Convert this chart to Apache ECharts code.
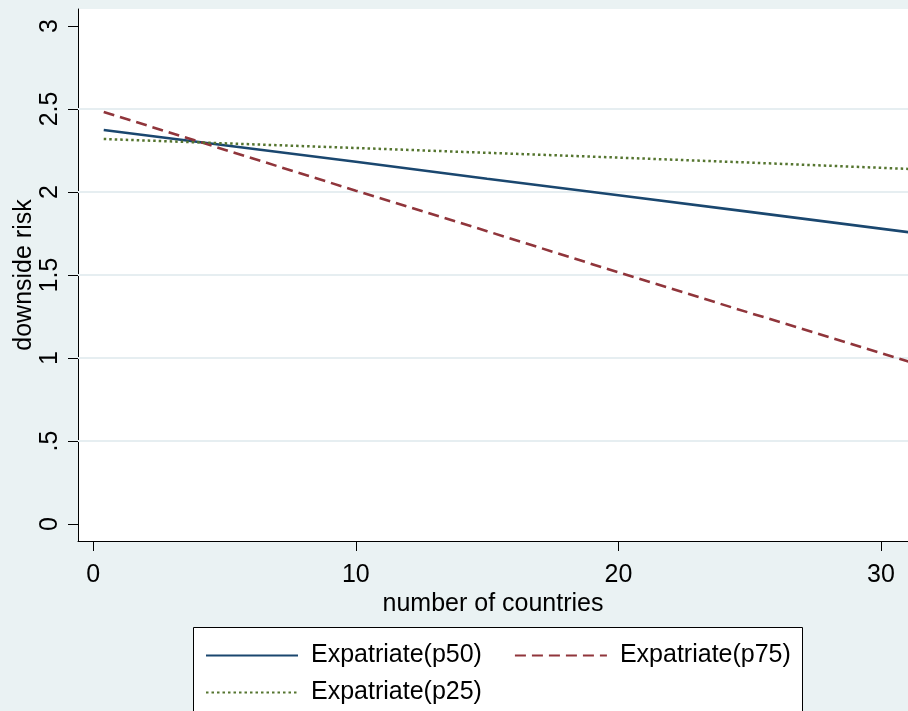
<!DOCTYPE html>
<html><head><meta charset="utf-8">
<script src="https://cdn.jsdelivr.net/npm/echarts@6/dist/echarts.min.js"></script>
<style>html,body{margin:0;padding:0;background:#eaf2f3}#c{width:908px;height:711px}</style>
</head><body><div id="c"></div>
<script>
const countries = [0.4, 5, 10, 15, 20, 25, 31.2];
const p50 = [2.373, 2.281, 2.182, 2.080, 1.980, 1.880, 1.755];
const p75 = [2.482, 2.255, 2.008, 1.764, 1.516, 1.272, 0.972];
const p25 = [2.319, 2.293, 2.265, 2.236, 2.207, 2.177, 2.138];
const xTicks = [0, 10, 20, 30];
const yTicks = [0, 0.5, 1, 1.5, 2, 2.5, 3];
const yTickLabels = ['0', '.5', '1', '1.5', '2', '2.5', '3'];
const yGrid = [0.5, 1, 1.5, 2, 2.5];
const names = ['Expatriate(p50)', 'Expatriate(p75)', 'Expatriate(p25)'];

const FONT = '"Liberation Sans", Arial, sans-serif';
const FS = 25;
const chart = echarts.init(document.getElementById('c'), null, {renderer: 'canvas'});
const zip = ys => countries.map((x, i) => [x, ys[i]]);
const legendBase = {
  itemWidth: 92, itemHeight: 14, itemGap: 32,
  textStyle: {fontFamily: FONT, fontSize: FS, color: '#000', padding: [0, 0, 0, 8]},
  itemStyle: {opacity: 0, borderWidth: 0},
  selectedMode: false, padding: 0
};
chart.setOption({
  backgroundColor: '#eaf2f3',
  animation: false,
  grid: {left: 78, top: 9, right: 0, bottom: 170, show: true, backgroundColor: '#ffffff', borderWidth: 0,
    containLabel: false, outerBoundsMode: 'none'},
  xAxis: {
    type: 'value', min: -0.58, max: 31.03,
    name: 'number of countries', nameLocation: 'middle', nameGap: 51, nameMoveOverlap: false,
    nameTextStyle: {fontFamily: FONT, fontSize: FS, color: '#000'},
    axisLine: {show: true, onZero: false, lineStyle: {color: '#000', width: 1}},
    axisTick: {show: true, length: 10, customValues: xTicks, lineStyle: {color: '#000'}},
    axisLabel: {customValues: xTicks, margin: 22, fontFamily: FONT, fontSize: FS, color: '#000'},
    splitLine: {show: false}
  },
  yAxis: {
    type: 'value', min: -0.102, max: 3.102,
    name: 'downside risk', nameLocation: 'middle', nameGap: 41, nameRotate: 90, nameMoveOverlap: false,
    nameTextStyle: {fontFamily: FONT, fontSize: FS, color: '#000'},
    axisLine: {show: true, onZero: false, lineStyle: {color: '#000', width: 1}},
    axisTick: {show: true, length: 10, customValues: yTicks, lineStyle: {color: '#000'}},
    axisLabel: {customValues: yTicks, rotate: 90, margin: 15, fontFamily: FONT, fontSize: FS, color: '#000',
      formatter: v => { const i = yTicks.findIndex(t => Math.abs(t - v) < 1e-9); return i >= 0 ? yTickLabels[i] : ''; }},
    splitLine: {show: false}
  },
  legend: [
    Object.assign({}, legendBase, {data: [names[0], names[1]], left: 205, top: 643}),
    Object.assign({}, legendBase, {data: [names[2]], left: 205, top: 680})
  ],
  graphic: [{type: 'rect', shape: {x: 193.5, y: 627.5, width: 609, height: 90}, style: {fill: '#fff', stroke: '#000', lineWidth: 1}, z: -1, silent: true}],
  series: [
    {type: 'line', name: '__grid', data: [], z: 1, silent: true,
      markLine: {silent: true, z: 1, symbol: 'none', label: {show: false}, animation: false,
        lineStyle: {type: 'solid', color: '#e6eef1', width: 2}, data: yGrid.map(v => ({yAxis: v}))}},
    {type: 'line', name: names[0], data: zip(p50), showSymbol: false, symbol: 'none', z: 3,
      lineStyle: {color: '#1a476f', width: 2.6, type: 'solid'}, itemStyle: {color: '#1a476f'}},
    {type: 'line', name: names[1], data: zip(p75), showSymbol: false, symbol: 'none', z: 3,
      lineStyle: {color: '#90353b', width: 2.6, type: [11, 6]}, itemStyle: {color: '#90353b'}},
    {type: 'line', name: names[2], data: zip(p25), showSymbol: false, symbol: 'none', z: 3,
      lineStyle: {color: '#55752f', width: 2.5, type: [2.5, 3]}, itemStyle: {color: '#55752f'}}
  ]
});
</script></body></html>
